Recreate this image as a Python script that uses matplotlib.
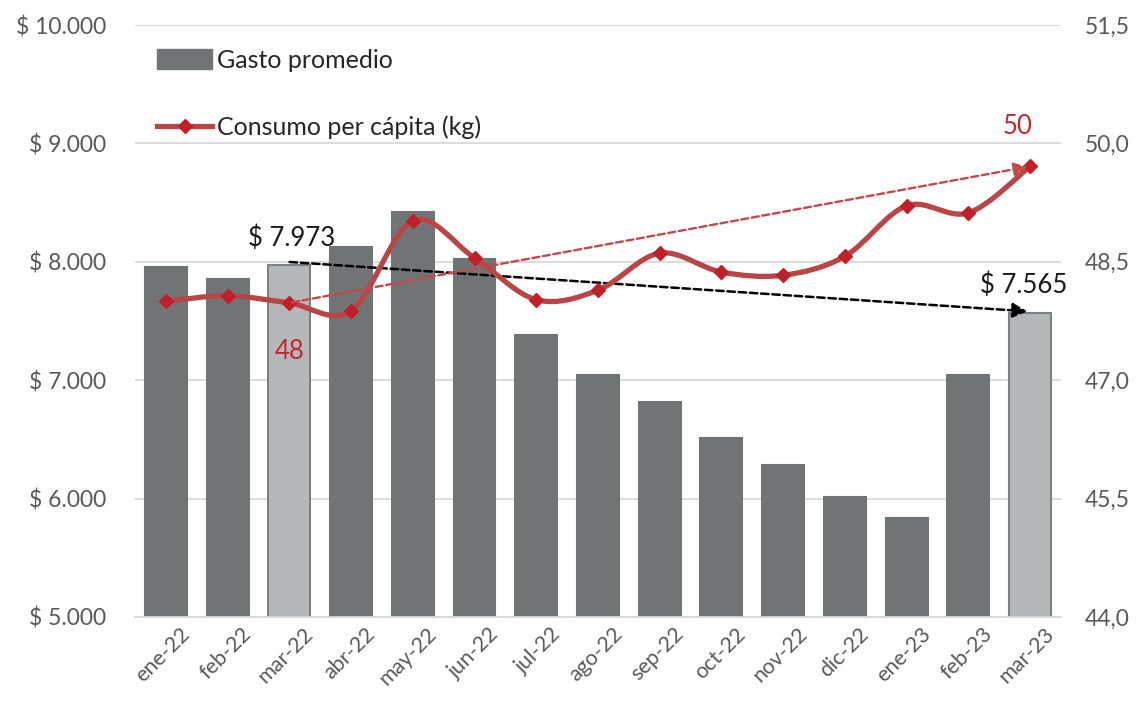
import matplotlib.pyplot as plt
import matplotlib.transforms as mtransforms
from matplotlib.path import Path
from matplotlib.patches import PathPatch, Patch
from matplotlib.lines import Line2D
from matplotlib.ticker import FuncFormatter, MultipleLocator, FixedLocator

plt.rcParams['font.family'] = ['Lato', 'DejaVu Sans']

# ── datos ──────────────────────────────────────────────────────
meses = ['ene-22', 'feb-22', 'mar-22', 'abr-22', 'may-22', 'jun-22', 'jul-22',
         'ago-22', 'sep-22', 'oct-22', 'nov-22', 'dic-22', 'ene-23', 'feb-23', 'mar-23']
gasto = [7958, 7855, 7973, 8127, 8420, 8025, 7382, 7044, 6816, 6512, 6284,
         6014, 5836, 7044, 7565]
consumo = [48.00, 48.07, 47.98, 47.88, 49.02, 48.55, 48.02, 48.14, 48.61,
           48.37, 48.33, 48.57, 49.21, 49.12, 49.71]
destacados = [2, 14]          # mar-22 y mar-23
ticks_der = [44.0, 45.5, 47.0, 48.5, 50.0, 51.5]

# ── colores ────────────────────────────────────────────────────
BAR_DARK = '#717475'
BAR_LIGHT = '#b5b7b8'
BAR_EDGE = '#7d8081'
LINE = '#b94646'
MARK = '#c0202a'
RED_TX = '#c0282d'
GRID = '#d9d9d9'
TICK = '#595959'

fig = plt.figure(figsize=(11.39, 7.07), dpi=100)
ax = fig.add_axes([0.1185, 0.1273, 0.813, 0.8373])
ax2 = ax.twinx()

x = list(range(len(meses)))

# ── barras ─────────────────────────────────────────────────────
colores = [BAR_LIGHT if i in destacados else BAR_DARK for i in x]
bordes = [BAR_EDGE if i in destacados else BAR_DARK for i in x]
ax.bar(x, gasto, width=0.68, color=colores, edgecolor=bordes, linewidth=1.5, zorder=2)

ax.set_ylim(5000, 10000)
ax.set_xlim(-0.5, len(meses) - 0.5)
ax.yaxis.set_major_locator(MultipleLocator(1000))
ax.yaxis.set_major_formatter(FuncFormatter(lambda v, p: '$ ' + f'{v:,.0f}'.replace(',', '.')))
ax.grid(axis='y', color=GRID, lw=1.3, zorder=0)
ax.set_axisbelow(True)
for s in ax.spines.values():
    s.set_visible(False)
ax.spines['bottom'].set_visible(True)
ax.spines['bottom'].set_color(GRID)
ax.spines['bottom'].set_linewidth(1.3)
ax.tick_params(axis='y', length=0, labelsize=16.5, labelcolor=TICK, pad=21)
ax.tick_params(axis='x', length=0, labelsize=15.5, labelcolor=TICK, pad=5)
ax.set_xticks(x)
ax.set_xticklabels(meses, rotation=45, ha='right', rotation_mode='anchor')
desplaza = mtransforms.ScaledTranslation(14 / 100, 0, fig.dpi_scale_trans)
for lbl in ax.get_xticklabels():
    lbl.set_transform(lbl.get_transform() + desplaza)

# ── línea suavizada (estilo Excel) ─────────────────────────────
ax2.set_ylim(44.0, 51.5)
ax2.yaxis.set_major_locator(FixedLocator(ticks_der))
ax2.yaxis.set_major_formatter(FuncFormatter(lambda v, p: f'{v:.1f}'.replace('.', ',')))
for s in ax2.spines.values():
    s.set_visible(False)
ax2.tick_params(axis='y', length=0, labelsize=16.5, labelcolor=TICK, pad=17)

pts = list(zip(x, consumo))
verts = [pts[0]]
codes = [Path.MOVETO]
n = len(pts)
for i in range(n - 1):
    p0 = pts[i - 1] if i > 0 else pts[i]
    p1 = pts[i]
    p2 = pts[i + 1]
    p3 = pts[i + 2] if i + 2 < n else pts[i + 1]
    c1 = (p1[0] + (p2[0] - p0[0]) / 6, p1[1] + (p2[1] - p0[1]) / 6)
    c2 = (p2[0] - (p3[0] - p1[0]) / 6, p2[1] - (p3[1] - p1[1]) / 6)
    verts += [c1, c2, p2]
    codes += [Path.CURVE4] * 3
ax2.add_patch(PathPatch(Path(verts, codes), facecolor='none', edgecolor=LINE,
                        lw=3.8, zorder=3, capstyle='round'))
ax2.plot(x, consumo, ls='none', marker='D', ms=7, color=MARK, zorder=4)

# ── flechas de tendencia ──────────────────────────────────────
ax.annotate('', xy=(14.0, 7580), xytext=(1.96, 8000),
            arrowprops=dict(arrowstyle='-|>', color='black', lw=1.8,
                            ls=(0, (3, 1.5)), mutation_scale=22), zorder=5)
ax2.annotate('', xy=(14, consumo[14]), xytext=(2, consumo[2]),
             arrowprops=dict(arrowstyle='-|>', color='#c6484a', lw=1.7,
                             ls=(0, (3, 1.5)), mutation_scale=20), zorder=5)

# ── etiquetas ──────────────────────────────────────────────────
ax.text(2.04, 8200, '$ 7.973', ha='center', va='center', fontsize=18.5, color='#1a1a1a', zorder=6)
ax.text(13.9, 7806, '$ 7.565', ha='center', va='center', fontsize=18.5, color='#1a1a1a', zorder=6)
ax2.text(2.0, 47.36, '48', ha='center', va='center', fontsize=18.5, color=RED_TX, zorder=6)
ax2.text(13.79, 50.21, '50', ha='center', va='center', fontsize=18.5, color=RED_TX, zorder=6)

# ── leyenda ────────────────────────────────────────────────────
handles = [Patch(facecolor=BAR_DARK, edgecolor=BAR_DARK),
           Line2D([0], [0], color=LINE, lw=3.8, marker='D', ms=7,
                  markerfacecolor=MARK, markeredgecolor=MARK)]
ax2.legend(handles, ['Gasto promedio', 'Consumo per cápita (kg)'], loc='upper left',
           bbox_to_anchor=(0.024, 0.96), frameon=False, fontsize=18,
           handlelength=2.2, handleheight=0.9, handletextpad=0.2,
           labelspacing=1.75, borderpad=0, borderaxespad=0, labelcolor='#262626')

plt.savefig('out.png', dpi=100, facecolor='white')
plt.close()
